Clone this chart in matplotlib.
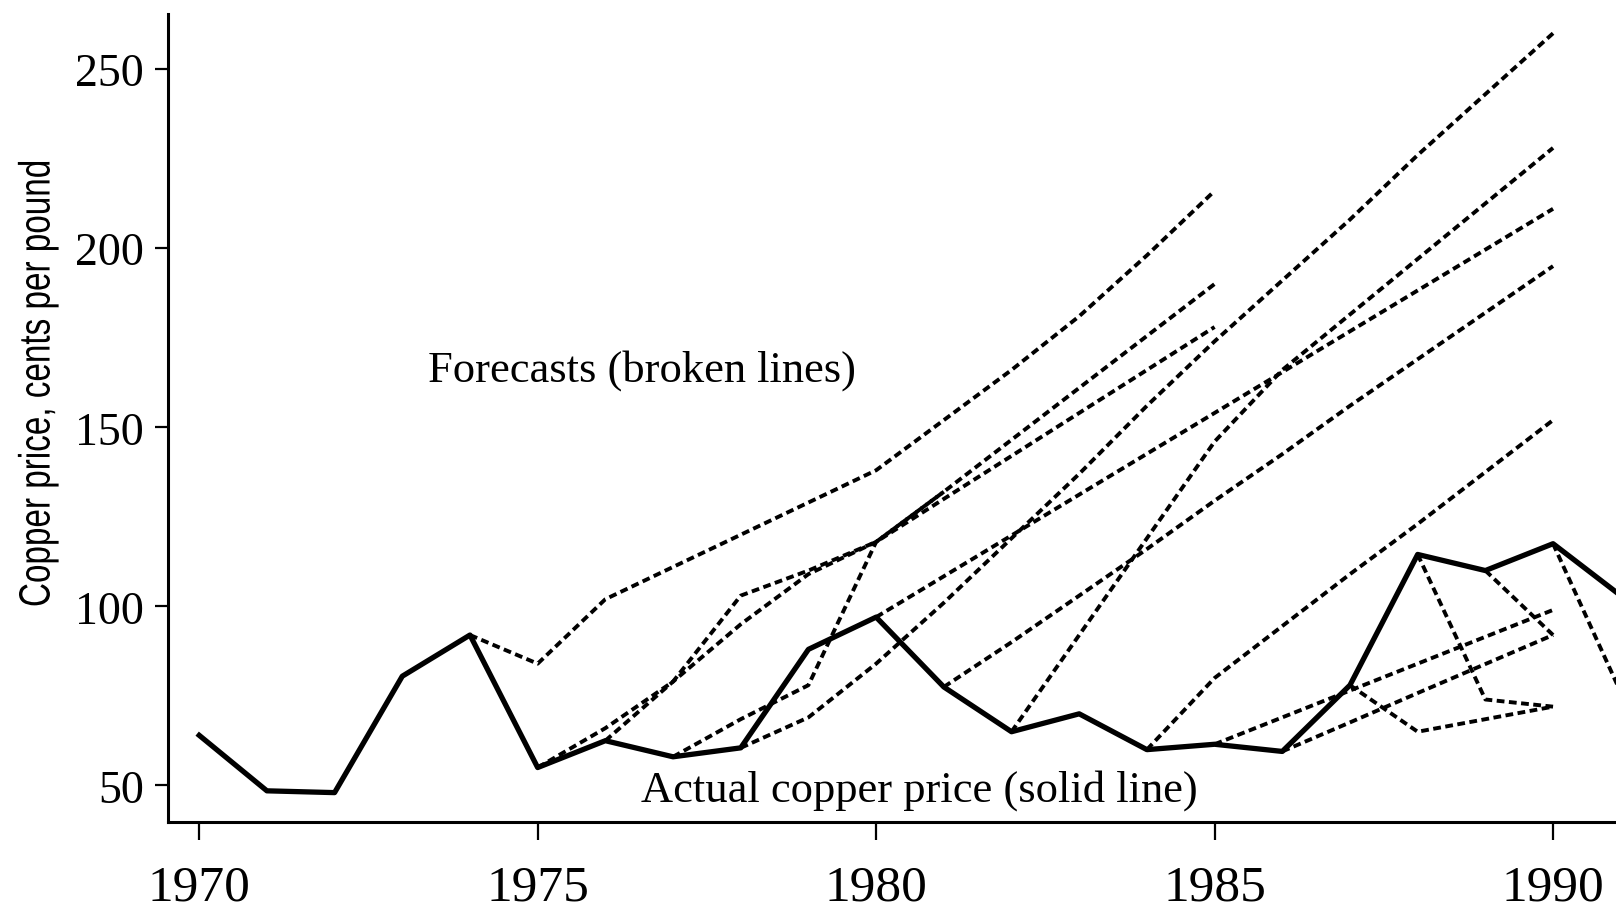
import matplotlib
matplotlib.use("Agg")
import matplotlib.pyplot as plt
from matplotlib.patheffects import AbstractPathEffect
from matplotlib.transforms import Affine2D

# Actual copper price, cents per pound
actual_years = list(range(1970, 1992))
actual_price = [64, 48.5, 48, 80.5, 92, 55, 62.5, 58, 60.5, 88, 97,
                77.5, 65, 70, 60, 61.5, 59.5, 78, 114.5, 110, 117.5, 103]

# Forecast paths: first year of each path and its yearly values
forecast_1974 = [92, 84, 102, 111, 120, 129, 138, 152, 166, 181, 198, 216]
forecast_1975 = [55, 66, 79, 103, 110, 118, 132, 146.5, 161, 175.5, 190]
forecast_1976 = [62.5, 79, 95, 109, 118, 130, 142, 154, 166, 178]
forecast_1977 = [58, 68.5, 78, 118, 132]
forecast_1978 = [60.5, 69, 84, 101, 119, 137, 156, 174, 191, 208, 226, 243, 260]
forecast_1980 = [97, 108.4, 119.8, 131.2, 142.6, 154, 165.4, 176.8, 188.2, 199.6, 211]
forecast_1981 = [77.5, 90, 103, 116, 129.5, 142.5, 156, 169, 182, 195]
forecast_1982 = [65, 92, 119, 146, 166, 181.5, 197, 212.5, 228]
forecast_1984 = [60, 80, 94.5, 109, 123, 137.5, 152]
forecast_1985 = [61.5, 69, 76.5, 84, 91.5, 99]
forecast_1986 = [59.5, 67.6, 75.8, 83.9, 92]
forecast_1987 = [78, 65, 68.5, 72]
forecast_1988 = [114.5, 74, 72]
forecast_1989 = [110, 92]
forecast_1990 = [117.5, 76]

forecasts = {
    1974: forecast_1974, 1975: forecast_1975, 1976: forecast_1976,
    1977: forecast_1977, 1978: forecast_1978, 1980: forecast_1980,
    1981: forecast_1981, 1982: forecast_1982, 1984: forecast_1984,
    1985: forecast_1985, 1986: forecast_1986, 1987: forecast_1987,
    1988: forecast_1988, 1989: forecast_1989, 1990: forecast_1990,
}

y_ticks = [50, 100, 150, 200, 250]
x_ticks = [1970, 1975, 1980, 1985, 1990]


class Squeeze(AbstractPathEffect):
    """Narrow the glyphs along the text direction (condensed look)."""

    def __init__(self, sx):
        super().__init__()
        self.sx = sx

    def draw_path(self, renderer, gc, tpath, affine, rgbFace=None):
        renderer.draw_path(gc, tpath, Affine2D().scale(self.sx, 1.0) + affine,
                           rgbFace)


serif = ["Liberation Serif", "DejaVu Serif"]
sans = ["Liberation Sans", "DejaVu Sans"]

fig = plt.figure(figsize=(16.16, 9.12), dpi=100)
ax = fig.add_axes([0.104, 0.0976, 0.896, 0.886])

for start, values in forecasts.items():
    yrs = list(range(start, start + len(values)))
    ax.plot(yrs, values, color="black", lw=2.8,
            linestyle=(0, (2.0, 1.15)), zorder=2)

ax.plot(actual_years, actual_price, color="black", lw=3.8, zorder=3)

ax.set_xlim(1969.54, 1990.93)
ax.set_ylim(39.8, 265.4)

ax.set_xticks(x_ticks)
ax.set_yticks(y_ticks)
ax.set_xticklabels([str(t) for t in x_ticks], fontfamily=serif, fontsize=37)
ax.set_yticklabels([str(t) for t in y_ticks], fontfamily=serif, fontsize=33)
ax.tick_params(axis="y", direction="out", length=9.5, width=1.6, pad=8)
ax.tick_params(axis="x", direction="out", length=13, width=1.6, pad=17)

for side in ("top", "right"):
    ax.spines[side].set_visible(False)
for side in ("left", "bottom"):
    ax.spines[side].set_linewidth(2.2)

# Condensed vertical axis title
ax.text(-0.0898, 0.266, "Copper price, cents per pound", transform=ax.transAxes,
        rotation=90, ha="center", va="bottom", fontfamily=sans, fontsize=31.5,
        path_effects=[Squeeze(0.76)])

ax.text(1973.38, 166, "Forecasts (broken lines)", fontfamily=serif,
        fontsize=32, ha="left", va="center")
ax.text(1976.53, 49, "Actual copper price (solid line)", fontfamily=serif,
        fontsize=32, ha="left", va="center")

fig.savefig("out.png", dpi=100)
